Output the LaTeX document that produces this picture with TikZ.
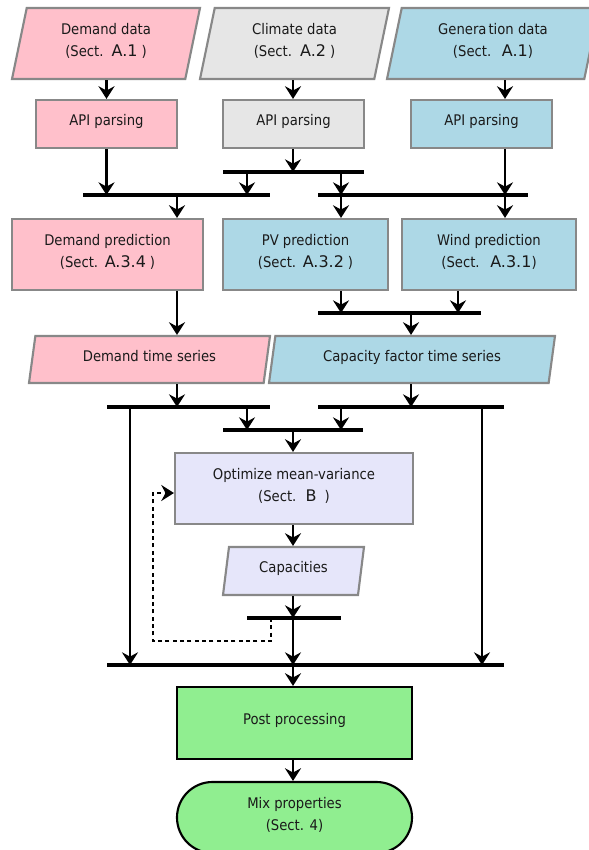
\documentclass[tikz,border=0pt]{standalone}
\usepackage{fontspec}
\setmainfont{DejaVu Sans}[FakeStretch=0.9]
\newfontfamily\reffont{DejaVu Sans}
\usetikzlibrary{shapes.geometric,shapes.misc,arrows.meta}
\definecolor{cpink}{HTML}{FFC0CB}
\definecolor{cgray}{HTML}{E6E6E6}
\definecolor{cblue}{HTML}{ADD8E6}
\definecolor{clav}{HTML}{E6E6FA}
\definecolor{cgreen}{HTML}{90EE90}
\definecolor{cborder}{HTML}{888888}
\definecolor{ctext}{HTML}{1A1A1A}
\newcommand\bigref[1]{{\reffont\fontsize{12}{16.5}\selectfont #1}}
\begin{document}
\begin{tikzpicture}[x=0.75pt,y=-0.75pt,
  every node/.style={font=\fontsize{11}{16.5}\selectfont, align=center, inner sep=0pt, text=ctext,
    execute at end node={\rule[-5.5pt]{0pt}{0pt}}},
  sz/.style 2 args={minimum width=#1*0.75pt, minimum height=#2*0.75pt},
  box/.style={draw=cborder, line width=1.6pt, rectangle},
  bbox/.style={draw=black, line width=1.6pt, rectangle},
  para/.style 2 args={draw=cborder, line width=1.6pt, trapezium, trapezium left angle=#1, trapezium right angle=#2, trapezium stretches body},
  stadium/.style={draw=black, line width=1.6pt, rounded rectangle},
  arr/.style={line width=1.7pt, -{Stealth[length=9.5pt,width=12pt,inset=3.2pt]}},
  bar/.style={line width=2.8pt},
  dashline/.style={line width=1.6pt, dash pattern=on 3pt off 2.5pt, -{Stealth[length=9.5pt,width=12pt,inset=3.2pt]}}
]
\useasboundingbox (0,0) rectangle (589,850);

% ---- top data row
\node[para={70}{110}, fill=cpink, sz={188}{71}] (demdata) at (106,43.5)
  {Demand data\\(Sect.\hspace{6pt}\bigref{A.1}\hspace{3pt})};
\node[para={70}{110}, fill=cgray, sz={189}{71}] (climdata) at (294.5,43.5)
  {Climate data\\(Sect.\hspace{6pt}\bigref{A.2}\hspace{3pt})};
\node[para={70}{110}, fill=cblue, sz={212}{71}] (gendata) at (493,43.5)
  {Genera\kern1.5pt tion data\\(Sect.\hspace{8pt}\bigref{A.1})};

% ---- API row
\node[box, fill=cpink, sz={141}{48}] (demapi) at (106.5,124) {API parsing};
\node[box, fill=cgray, sz={141}{48}] (climapi) at (293.5,124) {API parsing};
\node[box, fill=cblue, sz={141}{48}] (genapi) at (481.5,124) {API parsing};

% ---- prediction row
\node[box, fill=cpink, sz={191}{71}] (dempred) at (107.5,254.5)
  {Demand prediction\\(Sect.\hspace{5pt}\bigref{A.3.4}\hspace{3pt})};
\node[box, fill=cblue, sz={165}{71}] (pvpred) at (305.5,254.5)
  {PV prediction\\(Sect.\hspace{5pt}\bigref{A.3.2}\hspace{3pt})};
\node[box, fill=cblue, sz={174}{71}] (windpred) at (489,254.5)
  {Wind prediction\\(Sect.\hspace{8pt}\bigref{A.3.1})};

% ---- time series row
\node[para={71}{109}, fill=cpink, sz={241}{47}] (demts) at (149.5,359.5) {Demand time series};
\node[para={71}{109}, fill=cblue, sz={286}{47}] (capts) at (412,359.5) {Capacity factor time series};

% ---- optimisation
\node[box, fill=clav, sz={238}{71}] (opt) at (294,488.5)
  {Optimize mean-variance\\(Sect.\hspace{7pt}\bigref{B}\hspace{6pt})};
\node[para={72}{108}, fill=clav, sz={141}{48}] (caps) at (293.5,571) {Capacities};

% ---- output
\node[bbox, fill=cgreen, sz={235}{72}] (post) at (294.5,723) {Post processing};
\node[stadium, fill=cgreen, sz={235}{71}] (mix) at (294.5,817.5) {Mix properties\\(Sect. 4)};

% ---- column markers and bar ends
\coordinate (k130) at (130,0);
\coordinate (k153) at (153,0);
\coordinate (k177) at (177,0);
\coordinate (k247) at (247,0);
\coordinate (k271) at (271,0);
\coordinate (k293) at (293,0);
\coordinate (k341) at (341,0);
\coordinate (k411) at (411,0);
\coordinate (k458) at (458,0);
\coordinate (k482) at (482,0);
\coordinate (k505) at (505,0);

\coordinate (bcW) at (223,172);   \coordinate (bcE) at (364,172);
\coordinate (b1W) at (83,195);    \coordinate (b1E) at (270,195);
\coordinate (b2W) at (318,195);   \coordinate (b2E) at (528,195);
\coordinate (bpW) at (318,313);   \coordinate (bpE) at (481,313);
\coordinate (t1W) at (107,407);   \coordinate (t1E) at (270,407);
\coordinate (t2W) at (318,407);   \coordinate (t2E) at (504,407);
\coordinate (bmW) at (223,430);   \coordinate (bmE) at (363,430);
\coordinate (bkW) at (247,618);   \coordinate (bkE) at (341,618);
\coordinate (bbW) at (107,665);   \coordinate (bbE) at (504,665);
\coordinate (dshY) at (0,641);
\coordinate (optY) at (0,493);

% ---- bars
\foreach \a/\b in {bcW/bcE,b1W/b1E,b2W/b2E,bpW/bpE,t1W/t1E,t2W/t2E,bmW/bmE,bkW/bkE,bbW/bbE}
  \draw[bar] (\a) -- (\b);

% ---- connectors, top part
\draw[arr] (demdata.south -| demapi.north) -- (demapi.north);
\draw[arr] (climdata.south -| k293) -- (climapi.north -| k293);
\draw[arr] (gendata.south -| k505) -- (genapi.north -| k505);
\draw[arr] (demapi.south) -- (demapi.south |- b1W);
\draw[arr] (climapi.south -| k293) -- (bcW -| k293);
\draw[arr] (genapi.south -| k505) -- (b2W -| k505);
\draw[arr] (bcW -| k247) -- (b1W -| k247);
\draw[arr] (bcW -| k341) -- (b2W -| k341);
\draw[arr] (b1W -| k177) -- (dempred.north -| k177);
\draw[arr] (b2W -| k341) -- (pvpred.north -| k341);
\draw[arr] (b2W -| k505) -- (windpred.north -| k505);

% ---- predictions to time series
\draw[arr] (dempred.south -| k177) -- (demts.north -| k177);
\draw[arr] (pvpred.south -| k341) -- (bpW -| k341);
\draw[arr] (windpred.south -| k458) -- (bpW -| k458);
\draw[arr] (bpW -| k411) -- (capts.north -| k411);

% ---- time series to optimisation
\draw[arr] (demts.south -| k177) -- (t1W -| k177);
\draw[arr] (capts.south -| k411) -- (t2W -| k411);
\draw[arr] (t1W -| k247) -- (bmW -| k247);
\draw[arr] (t2W -| k341) -- (bmW -| k341);
\draw[arr] (t1W -| k130) -- (bbW -| k130);
\draw[arr] (t2W -| k482) -- (bbW -| k482);
\draw[arr] (bmW -| k293) -- (opt.north -| k293);
\draw[arr] (opt.south -| k293) -- (caps.north -| k293);
\draw[arr] (caps.south -| k293) -- (bkW -| k293);
\draw[arr] (bkW -| k293) -- (bbW -| k293);
\draw[dashline] (bkW -| k271) -- (dshY -| k271) -- (dshY -| k153) -- (optY -| k153) -- (opt.west |- optY);

% ---- output
\draw[arr] (bbW -| k293) -- (post.north -| k293);
\draw[arr] (post.south -| k293) -- (mix.north -| k293);
\end{tikzpicture}
\end{document}
